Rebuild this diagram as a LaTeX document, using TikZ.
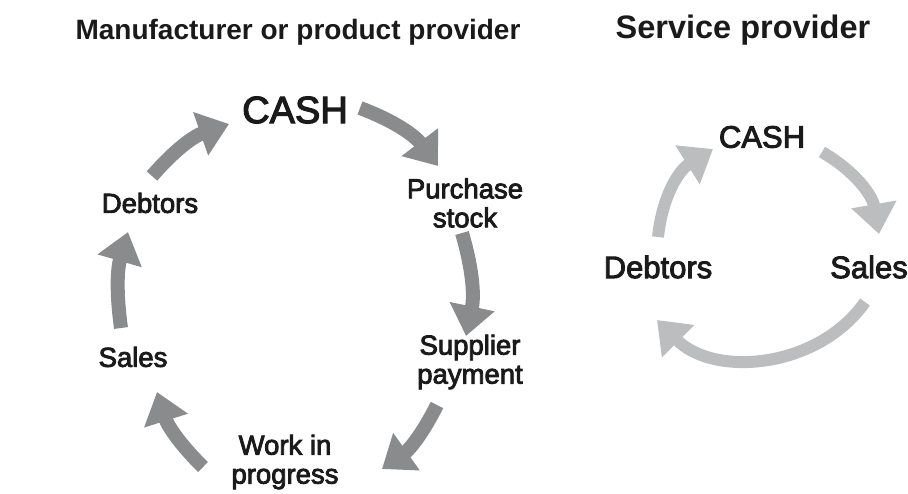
\documentclass[tikz,border=0pt]{standalone}
\usepackage{fontspec}
\setmainfont{Liberation Sans}
\newfontfamily\medfont[FakeBold=3]{Liberation Sans}
\usetikzlibrary{arrows.meta}
\definecolor{darkflow}{HTML}{8A8B8D}
\definecolor{lightflow}{HTML}{BCBDBF}
\definecolor{ink}{HTML}{1A1A1A}

\begin{document}
\begin{tikzpicture}[x=1pt,y=-1pt,
  heading/.style={font=\bfseries\fontsize{28}{32}\selectfont, text=ink, inner sep=0pt},
  lbl/.style={font=\medfont\fontsize{27.5}{29}\selectfont, align=center, text=ink, inner sep=0pt},
  lblbig/.style={font=\medfont\fontsize{38}{40}\selectfont, text=ink, inner sep=0pt},
  lblr/.style={font=\medfont\fontsize{31}{32}\selectfont, text=ink, inner sep=0pt},
  flowA/.style={draw=darkflow, line width=14pt, -{Triangle[width=44pt,length=30pt]}},
  flowB/.style={draw=lightflow, line width=12pt, -{Triangle[width=44pt,length=30pt]}},
]
\useasboundingbox (0,0) rectangle (908,493);

% headings
\node[heading] (h1) at (298,32) {Manufacturer or product provider};
\node[heading, font=\bfseries\fontsize{32.5}{34}\selectfont] (h2) at (743,30) {Service provider};

% manufacturer cycle labels
\node[lblbig] (cash)  at (295,110) {CASH};
\node[lbl] (buy)   at (465,203) {Purchase\\stock};
\node[lbl] (pay)   at (470,362) {Supplier\\payment};
\node[lbl] (wip)   at (285,462) {Work in\\progress};
\node[lbl] (sales) at (133,357) {Sales};
\node[lbl] (debt)  at (150,203) {Debtors};

% arrow ends of the manufacturer cycle
\coordinate (a1s) at (360,108); \coordinate (a1e) at (438,166);
\coordinate (a2s) at (462,233); \coordinate (a2e) at (466,336);
\coordinate (a3s) at (437,405); \coordinate (a3e) at (382,469);
\coordinate (a4s) at (203,467); \coordinate (a4e) at (157,392);
\coordinate (a5s) at (121,328); \coordinate (a5e) at (128,232);
\coordinate (a6s) at (152,176); \coordinate (a6e) at (229,124);

\draw[flowA] (a1s) to[bend left=16] (a1e);
\draw[flowA] (a2s) to[bend left=14] (a2e);
\draw[flowA] (a3s) to[bend left=14] (a3e);
\draw[flowA] (a4s) to[bend left=14] (a4e);
\draw[flowA] (a5s) to[bend left=12] (a5e);
\draw[flowA] (a6s) to[bend left=15] (a6e);

% service cycle labels
\node[lblr] (rcash)  at (762,137) {CASH};
\node[lblr] (rsales) at (869,267) {Sales};
\node[lblr] (rdebt)  at (658,267) {Debtors};

% arrow ends of the service cycle
\coordinate (b1s) at (822,152); \coordinate (b1e) at (879,234);
\coordinate (b2s) at (865,302); \coordinate (b2e) at (657,320);
\coordinate (b3s) at (658,237); \coordinate (b3e) at (713,149);

\draw[flowB] (b1s) to[bend left=25] (b1e);
\draw[flowB] (b2s) to[bend left=50] (b2e);
\draw[flowB] (b3s) to[bend left=26] (b3e);
\end{tikzpicture}
\end{document}
